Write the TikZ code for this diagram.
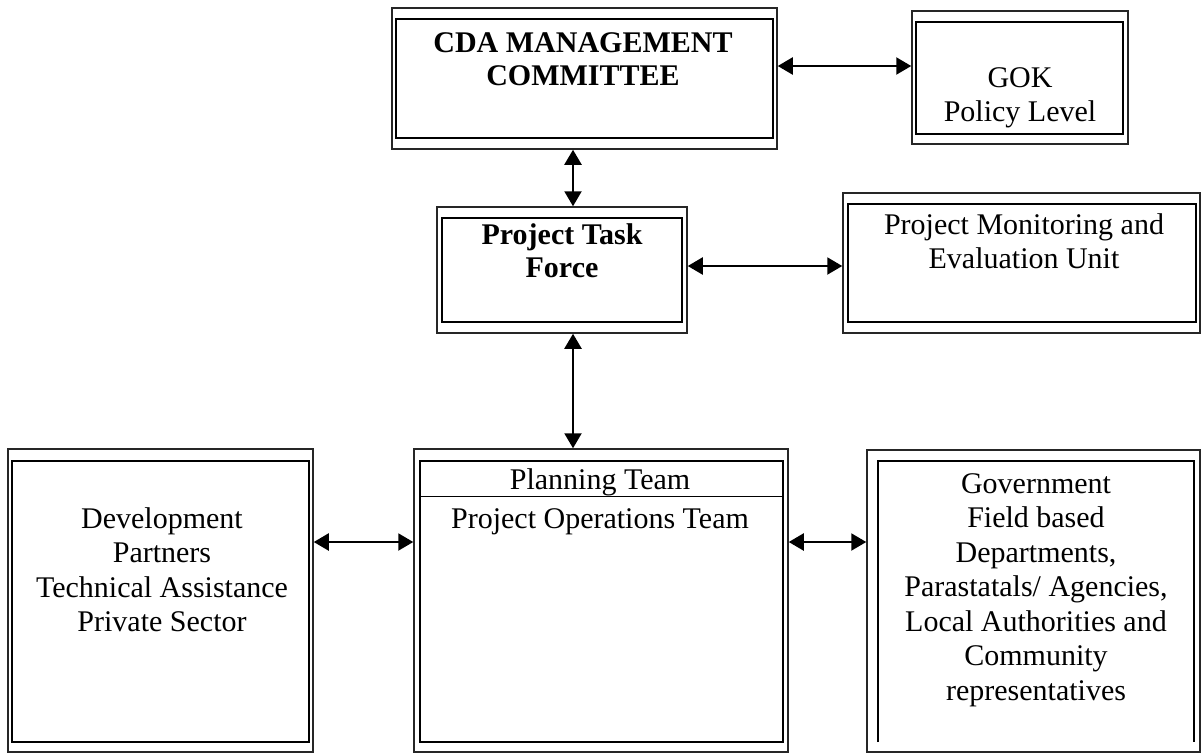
\documentclass[tikz,border=0pt]{standalone}
\usepackage{fontspec}
\setmainfont{Liberation Serif}
\usetikzlibrary{arrows.meta}
\begin{document}
\begin{tikzpicture}[x=1pt,y=-1pt,
  outerbox/.style={draw=black!85, line width=1.5pt, inner sep=0pt, rectangle},
  innerline/.style={draw=black, line width=2.3pt},
  thinline/.style={draw=black, line width=1pt},
  txt/.style={inner sep=0pt, align=center, font=\fontsize{30}{34.5}\selectfont},
  btxt/.style={txt, font=\fontsize{30}{33.5}\selectfont\bfseries},
  conn/.style={draw=black, line width=2.2pt, {Triangle[length=15pt,width=17pt]}-{Triangle[length=15pt,width=17pt]}}
]
\useasboundingbox (0,0) rectangle (1202,753);
% boxes (outer frames as named nodes)
\node[outerbox, minimum width=385pt, minimum height=141pt] (cda) at (584.5,78.5) {};
\node[outerbox, minimum width=216pt, minimum height=133pt] (gok) at (1020,77.5) {};
\node[outerbox, minimum width=250pt, minimum height=126pt] (ptf) at (562,270) {};
\node[outerbox, minimum width=357pt, minimum height=140pt] (pme) at (1021.5,263) {};
\node[outerbox, minimum width=305pt, minimum height=303pt] (dev) at (160.5,600.5) {};
\node[outerbox, minimum width=374pt, minimum height=303pt] (plan) at (601,600.5) {};
\node[outerbox, minimum width=333pt, minimum height=302pt] (gov) at (1033.5,601) {};
% inner frames
\draw[innerline, line width=2.6pt] (396,19) rectangle (773,138);
\draw[innerline, line width=2.6pt] (916,22) rectangle (1123,134);
\draw[innerline] (442,218) rectangle (682,322);
\draw[innerline] (848,204) rectangle (1196,322);
\draw[innerline, line width=2pt] (12,461) rectangle (309,742);
\draw[innerline, line width=2pt] (420,461) rectangle (783,742);
\draw[thinline] (420,496) -- (783,496);
\draw[innerline, line width=2pt] (878,742) -- (878,461) -- (1194,461) -- (1194,742);
% texts
\node[btxt, anchor=north] (cdaT) at (583,32) {CDA MANAGEMENT\\COMMITTEE};
\node[txt, anchor=north] (gokT) at (1020,67) {GOK\\Policy Level};
\node[btxt, anchor=north] (ptfT) at (562,223) {Project Task\\Force};
\node[txt, anchor=north] (pmeT) at (1024,213) {Project Monitoring and\\Evaluation Unit};
\node[txt, anchor=north] (devT) at (162,507) {Development\\Partners\\Technical Assistance\\Private Sector};
\node[txt, anchor=north] (planT) at (600,468) {Planning Team};
\node[txt, anchor=north] (opsT) at (600,508) {Project Operations Team};
\node[txt, anchor=north] (govT) at (1036,473) {Government\\Field based\\Departments,\\Parastatals/ Agencies,\\Local Authorities and\\Community\\representatives};
% connectors
\draw[conn] ([yshift=12.5pt]cda.east) -- ([yshift=12.5pt]cda.east -| gok.west);
\draw[conn] ([xshift=-11.5pt]cda.south) -- ([xshift=-11.5pt]cda.south |- ptf.north);
\draw[conn] ([yshift=4pt]ptf.east) -- ([yshift=4pt]ptf.east -| pme.west);
\draw[conn] ([xshift=11pt]ptf.south) -- ([xshift=11pt]ptf.south |- plan.north);
\draw[conn] ([yshift=58.5pt]dev.east) -- ([yshift=58.5pt]dev.east -| plan.west);
\draw[conn] ([yshift=58.5pt]plan.east) -- ([yshift=58.5pt]plan.east -| gov.west);
\end{tikzpicture}
\end{document}
